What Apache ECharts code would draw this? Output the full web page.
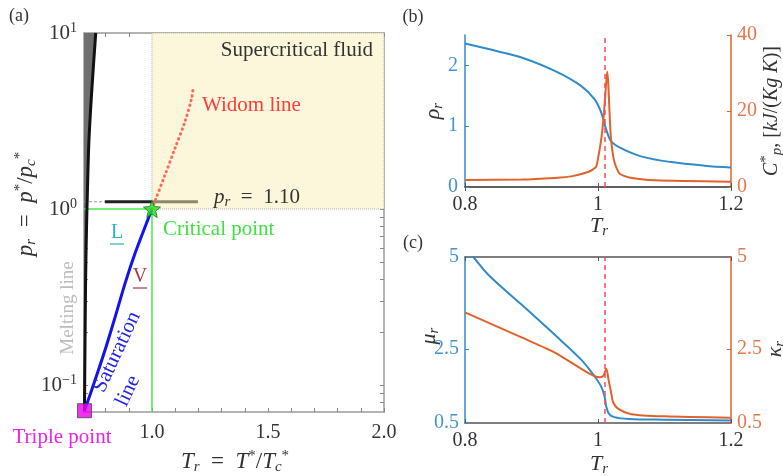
<!DOCTYPE html>
<html>
<head>
<meta charset="utf-8">
<script src="https://cdn.jsdelivr.net/npm/echarts@6/dist/echarts.min.js"></script>
<style>
  html, body { margin: 0; padding: 0; background: #fff; }
  #echart { width: 783px; height: 476px; }
</style>
</head>
<body>
<div id="echart"></div>
<script>
// ---- data ----
// (a) phase diagram, reduced units
let critT = 1.0, critP = 1.0
let tripleT = 0.709, tripleP = 0.0715
let isobarP = 1.1
let meltT = [0.709, 0.711, 0.714, 0.718, 0.722, 0.728, 0.740, 0.757, 0.758]
let meltP = [0.0715, 0.15, 0.4, 0.8, 1.3, 2.4, 4.6, 9.75, 10]
let satT = [0.709, 0.754, 0.797, 0.841, 0.884, 0.927, 0.970, 1.0]
let satP = [0.0715, 0.106, 0.157, 0.243, 0.378, 0.56, 0.79, 1.0]
let widomT = [1.0, 1.013, 1.056, 1.099, 1.142, 1.171, 1.178]
let widomP = [1.0, 1.11, 1.56, 2.21, 3.13, 4.26, 4.95]
let isobarT = [0.797, 1.0, 1.198]

// (b) density and heat capacity on the isobar
let rhoT = [0.8, 0.85, 0.885, 0.935, 0.975, 0.995, 1.005, 1.0125, 1.02, 1.036, 1.066, 1.11, 1.16, 1.2]
let rho = [2.36, 2.23, 2.13, 1.91, 1.66, 1.44, 1.22, 0.94, 0.75, 0.63, 0.50, 0.41, 0.35, 0.32]
let cpT = [0.8, 0.885, 0.935, 0.96, 0.986, 0.997, 1.0, 1.005, 1.009, 1.0125, 1.014, 1.0155, 1.018, 1.02, 1.0245, 1.032, 1.047, 1.087, 1.2]
let cp = [1.84, 1.97, 2.4, 2.8, 4.0, 5.3, 7.5, 12.8, 19.5, 28, 30.3, 27, 17, 11.9, 6.7, 3.6, 2.5, 1.75, 1.4]
let widomTb = 1.014

// (c) viscosity and thermal conductivity
let muT = [0.8, 0.8125, 0.835, 0.885, 0.935, 0.975, 0.995, 1.005, 1.01, 1.0125, 1.0165, 1.0245, 1.046, 1.1, 1.2]
let mu = [5.26, 5.0, 4.52, 3.71, 2.89, 2.21, 1.76, 1.48, 1.21, 0.94, 0.75, 0.66, 0.61, 0.59, 0.57]
let kapT = [0.8, 0.885, 0.935, 0.985, 1.002, 1.008, 1.0125, 1.016, 1.02, 1.0226, 1.03, 1.05, 1.1, 1.2]
let kap = [3.5, 2.82, 2.41, 1.86, 1.74, 1.78, 1.97, 1.66, 1.30, 1.07, 0.89, 0.74, 0.68, 0.64]

// tick labels
let xTicksA = [1.0, 1.5, 2.0]
let xMinorA = [0.8, 0.9, 1.0, 1.1, 1.2, 1.3, 1.4, 1.5, 1.6, 1.7, 1.8, 1.9, 2.0]
let yMinorA = [0.08, 0.09, 0.1, 0.2, 0.3, 0.4, 0.5, 0.6, 0.7, 0.8, 0.9, 1, 2, 3, 4, 5, 6, 7, 8, 9, 10]
let yTicksC = [0.5, 2.5, 5]

let serif = 'Liberation Serif'
let blue = '#2f8bcb', orange = '#e0622d'
let blueTxt = '#4396d4', orangeTxt = '#e7784a'
let zip = (a, b) => a.map((v, i) => [v, b[i]])

let echart = echarts.init(document.getElementById('echart'))

let subsup = {
    i: {fontFamily: serif, fontStyle: 'italic', fontSize: 22, lineHeight: 26},
    n: {fontFamily: serif, fontSize: 22, lineHeight: 26},
    sb: {fontFamily: serif, fontStyle: 'italic', fontSize: 15, lineHeight: 15, verticalAlign: 'bottom'},
    sp: {fontFamily: serif, fontSize: 15, lineHeight: 15, verticalAlign: 'top'}
}
function richText(fill, size) {
    let r = {}
    for (let k in subsup) {
        r[k] = Object.assign({}, subsup[k], {color: fill})
        if (size && (k === 'i' || k === 'n')) r[k].fontSize = size
    }
    return r
}

function txt(x, y, text, opt) {
    opt = opt || {}
    return {
        type: 'text', x: x, y: y, z: 100, rotation: opt.rot || 0, silent: true,
        style: {
            text: text, fill: opt.color || '#333',
            font: (opt.size || 20) + 'px "' + serif + '"',
            align: opt.align || 'center', verticalAlign: 'middle',
            rich: opt.rich
        }
    }
}

let deg = Math.PI / 180
let tickFont = {fontFamily: serif, fontSize: 20}

function frameX(gi, pos, min, max, extra) {
    return Object.assign({
        gridIndex: gi, type: 'value', min: min, max: max, position: pos,
        axisLine: {lineStyle: {color: '#555', width: 1.5}},
        axisTick: {inside: true, length: 4, lineStyle: {color: '#555'}},
        axisLabel: pos === 'top' ? {show: false} : Object.assign({color: '#333', margin: 8}, tickFont),
        splitLine: {show: false}
    }, extra)
}

let option = {
    animation: false,
    grid: [
        {left: 84, top: 33, width: 300, height: 379},
        {left: 465, top: 35, width: 266, height: 152},
        {left: 465, top: 257, width: 266, height: 166}
    ],
    xAxis: [
        frameX(0, 'bottom', 0.707, 2, {
            axisLine: {lineStyle: {color: '#9a9a9a', width: 1.5}},
            axisTick: {inside: true, length: 4, customValues: xMinorA, lineStyle: {color: '#888'}},
            axisLabel: Object.assign({customValues: xTicksA, formatter: v => v.toFixed(1), color: '#333', margin: 11}, tickFont)
        }),
        frameX(0, 'top', 0.707, 2, {
            axisLine: {lineStyle: {color: '#9a9a9a', width: 1.5}},
            axisTick: {inside: true, length: 4, customValues: xMinorA, lineStyle: {color: '#888'}}
        }),
        frameX(1, 'bottom', 0.8, 1.2, {interval: 0.2}),
        frameX(1, 'top', 0.8, 1.2, {interval: 0.2}),
        frameX(2, 'bottom', 0.8, 1.2, {interval: 0.2}),
        frameX(2, 'top', 0.8, 1.2, {interval: 0.2})
    ],
    yAxis: [
        {
            gridIndex: 0, type: 'log', logBase: 10, min: 0.0703, max: 10, position: 'left',
            axisLine: {lineStyle: {color: '#9a9a9a', width: 1.5}},
            axisTick: {inside: true, length: 4, customValues: yMinorA, lineStyle: {color: '#888'}},
            axisLabel: {
                showMinLabel: false, margin: 7, color: '#333',
                formatter: function (v) {
                    let e = Math.round(Math.log10(v))
                    return '{b|10}{s|' + (e < 0 ? '\u2212' + (-e) : e) + '}'
                },
                rich: {
                    b: {fontFamily: serif, fontSize: 21, lineHeight: 24, color: '#333'},
                    s: {fontFamily: serif, fontSize: 14, lineHeight: 14, verticalAlign: 'top', color: '#333'}
                }
            },
            splitLine: {show: false}
        },
        {
            gridIndex: 0, type: 'log', logBase: 10, min: 0.0703, max: 10, position: 'right',
            axisLine: {lineStyle: {color: '#9a9a9a', width: 1.5}},
            axisTick: {inside: true, length: 4, customValues: yMinorA, lineStyle: {color: '#888'}},
            axisLabel: {show: false}, splitLine: {show: false}
        },
        {
            gridIndex: 1, type: 'value', min: 0, max: 2.5, interval: 1, position: 'left',
            axisLine: {lineStyle: {color: blue, width: 1.5}},
            axisTick: {inside: true, length: 4, lineStyle: {color: blue}},
            axisLabel: Object.assign({showMaxLabel: false, color: blueTxt, margin: 7}, tickFont),
            splitLine: {show: false}
        },
        {
            gridIndex: 1, type: 'value', min: 0, max: 40, interval: 20, position: 'right',
            axisLine: {lineStyle: {color: orange, width: 1.5}},
            axisTick: {inside: true, length: 4, lineStyle: {color: orange}},
            axisLabel: Object.assign({color: orangeTxt, margin: 6}, tickFont),
            splitLine: {show: false}
        },
        {
            gridIndex: 2, type: 'value', min: 0.5, max: 5, position: 'left',
            axisLine: {lineStyle: {color: blue, width: 1.5}},
            axisTick: {inside: true, length: 4, customValues: yTicksC, lineStyle: {color: blue}},
            axisLabel: Object.assign({customValues: yTicksC, color: blueTxt, margin: 6}, tickFont),
            splitLine: {show: false}
        },
        {
            gridIndex: 2, type: 'value', min: 0.5, max: 5, position: 'right',
            axisLine: {lineStyle: {color: orange, width: 1.5}},
            axisTick: {inside: true, length: 4, customValues: yTicksC, lineStyle: {color: orange}},
            axisLabel: Object.assign({customValues: yTicksC, color: orangeTxt, margin: 6}, tickFont),
            splitLine: {show: false}
        }
    ],
    series: [
        // supercritical region
        {
            type: 'line', xAxisIndex: 0, yAxisIndex: 0, data: [], z: 1,
            markArea: {
                silent: true,
                itemStyle: {color: '#fcf7da', borderColor: '#b0b0a8', borderWidth: 1, borderType: 'dotted'},
                data: [[{xAxis: critT, yAxis: critP}, {xAxis: 2, yAxis: 10}]]
            }
        },
        // solid region left of the melting line
        {
            type: 'custom', xAxisIndex: 0, yAxisIndex: 0, data: [0], z: 2, silent: true,
            renderItem: function (params, api) {
                let pts = meltT.map((t, i) => api.coord([t, meltP[i]]))
                let x0 = api.coord([0.707, 1])[0]
                pts.push([x0, api.coord([0.707, meltP[meltP.length - 1]])[1]])
                pts.push([x0, api.coord([0.707, meltP[0]])[1]])
                return {type: 'polygon', shape: {points: pts}, style: {fill: '#6f6f6f'}}
            }
        },
        // green lines through critical point
        {
            type: 'line', xAxisIndex: 0, yAxisIndex: 0, z: 3, showSymbol: false, silent: true,
            data: [[0.707, critP], [critT, critP]], lineStyle: {color: '#4be94b', width: 1.5}
        },
        {
            type: 'line', xAxisIndex: 0, yAxisIndex: 0, z: 3, showSymbol: false, silent: true,
            data: [[critT, 0.0703], [critT, critP]], lineStyle: {color: '#4be94b', width: 1.5}
        },
        // isobar p_r = 1.10
        {
            type: 'line', xAxisIndex: 0, yAxisIndex: 0, z: 3, showSymbol: false, silent: true,
            data: [[0.707, isobarP], [isobarT[0], isobarP]], lineStyle: {color: '#999', width: 1, type: [3, 2]}
        },
        {
            type: 'line', xAxisIndex: 0, yAxisIndex: 0, z: 4, showSymbol: false, silent: true,
            data: [[isobarT[0], isobarP], [isobarT[1], isobarP]], lineStyle: {color: '#222', width: 3}
        },
        {
            type: 'line', xAxisIndex: 0, yAxisIndex: 0, z: 4, showSymbol: false, silent: true,
            data: [[isobarT[1], isobarP], [isobarT[2], isobarP]], lineStyle: {color: '#8d876f', width: 3}
        },
        // melting line
        {
            type: 'line', xAxisIndex: 0, yAxisIndex: 0, z: 5, showSymbol: false, smooth: 0.3, silent: true,
            data: zip(meltT, meltP), lineStyle: {color: '#111', width: 3}
        },
        // saturation line
        {
            type: 'line', xAxisIndex: 0, yAxisIndex: 0, z: 5, showSymbol: false, smooth: 0.3, silent: true,
            data: zip(satT, satP), lineStyle: {color: '#1212ee', width: 3}
        },
        // Widom line
        {
            type: 'line', xAxisIndex: 0, yAxisIndex: 0, z: 5, showSymbol: false, smooth: 0.3, silent: true,
            data: zip(widomT, widomP), lineStyle: {color: '#ff6a5c', width: 3, type: [0.5, 4.5], cap: 'round'}
        },
        // critical point and triple point
        {
            type: 'scatter', xAxisIndex: 0, yAxisIndex: 0, z: 6, silent: true,
            data: [[critT, critP]], symbolSize: 17,
            symbol: 'path://M12 1 L14.9 8.6 23 9.3 16.8 14.4 18.8 22.5 12 18 5.2 22.5 7.2 14.4 1 9.3 9.1 8.6Z',
            itemStyle: {color: '#22e022', borderColor: '#157015', borderWidth: 1}
        },
        {
            type: 'scatter', xAxisIndex: 0, yAxisIndex: 0, z: 6, silent: true,
            data: [[tripleT, tripleP]], symbol: 'rect', symbolSize: 14,
            itemStyle: {color: '#ee00ee', borderColor: '#444', borderWidth: 1}
        },
        // (b)
        {
            type: 'line', xAxisIndex: 2, yAxisIndex: 2, showSymbol: false, smooth: 0.35, silent: true,
            data: zip(rhoT, rho), lineStyle: {color: blue, width: 2}
        },
        {
            type: 'line', xAxisIndex: 2, yAxisIndex: 3, showSymbol: false, smooth: 0.2, silent: true,
            data: zip(cpT, cp), lineStyle: {color: orange, width: 2},
            markLine: {
                silent: true, symbol: 'none', label: {show: false},
                lineStyle: {color: '#ff4b5c', width: 1.5, type: [5, 4]},
                data: [{xAxis: widomTb}]
            }
        },
        // (c)
        {
            type: 'line', xAxisIndex: 4, yAxisIndex: 4, showSymbol: false, smooth: 0.35, silent: true,
            data: zip(muT, mu), lineStyle: {color: blue, width: 2}
        },
        {
            type: 'line', xAxisIndex: 4, yAxisIndex: 5, showSymbol: false, smooth: 0.25, silent: true,
            data: zip(kapT, kap), lineStyle: {color: orange, width: 2},
            markLine: {
                silent: true, symbol: 'none', label: {show: false},
                lineStyle: {color: '#ff4b5c', width: 1.5, type: [5, 4]},
                data: [{xAxis: widomTb}]
            }
        }
    ],
    graphic: [
        txt(19, 16, '(a)', {size: 18}),
        txt(413, 17, '(b)', {size: 18}),
        txt(413, 243, '(c)', {size: 18}),
        txt(373, 50, 'Supercritical fluid', {align: 'right', size: 21, color: '#333'}),
        txt(202, 105, 'Widom line', {align: 'left', size: 21, color: '#ff3a3a'}),
        txt(214, 197, '{i|p}{sb|r}{n|  =  1.10}', {align: 'left', rich: richText('#333', 21)}),
        txt(163, 229, 'Critical point', {align: 'left', size: 21, color: '#3fe23f'}),
        txt(117, 233, 'L', {size: 20, color: '#2ab2c6'}),
        {type: 'line', z: 100, silent: true, shape: {x1: 110, y1: 244, x2: 124, y2: 244}, style: {stroke: '#2ab2c6', lineWidth: 1.2}},
        txt(140, 277, 'V', {size: 20, color: '#a83a48'}),
        {type: 'line', z: 100, silent: true, shape: {x1: 133, y1: 288, x2: 147, y2: 288}, style: {stroke: '#a83a48', lineWidth: 1.2}},
        txt(117, 352, 'Saturation', {size: 21, color: '#2323ee', rot: 65 * deg}),
        txt(128, 391, 'line', {size: 21, color: '#2323ee', rot: 65 * deg}),
        txt(68, 308, 'Melting line', {size: 19, color: '#bdbdbd', rot: 90 * deg}),
        txt(62, 437, 'Triple point', {size: 21, color: '#ee22ee'}),
        txt(235, 462, '{i|T}{sb|r}{n|  =  }{i|T}{sp|*}{n|/}{i|T}{sb|c}{sp|*}', {rich: richText('#333', 23)}),
        txt(26, 204, '{i|p}{sb|r}{n|  =  }{i|p}{sp|*}{n|/}{i|p}{sb|c}{sp|*}', {rich: richText('#333', 23), rot: 90 * deg}),
        txt(599, 226, '{i|T}{sb|r}', {rich: richText('#333')}),
        txt(433, 111, '{i|\u03c1}{sb|r}', {rich: richText(blueTxt), rot: 90 * deg}),
        txt(772, 111, '{i|C}{sp|*}{sb|p}{n|, [}{i|kJ}{n|/(}{i|Kg K}{n|)]}', {rich: richText(orangeTxt, 20), rot: 90 * deg}),
        txt(599, 464, '{i|T}{sb|r}', {rich: richText('#333')}),
        txt(429, 336, '{i|\u03bc}{sb|r}', {rich: richText(blueTxt), rot: 90 * deg}),
        txt(775, 349, '{i|\u03ba}{sb|r}', {rich: richText(orangeTxt), rot: 90 * deg})
    ]
};

echart.setOption(option);
</script>
</body>
</html>
